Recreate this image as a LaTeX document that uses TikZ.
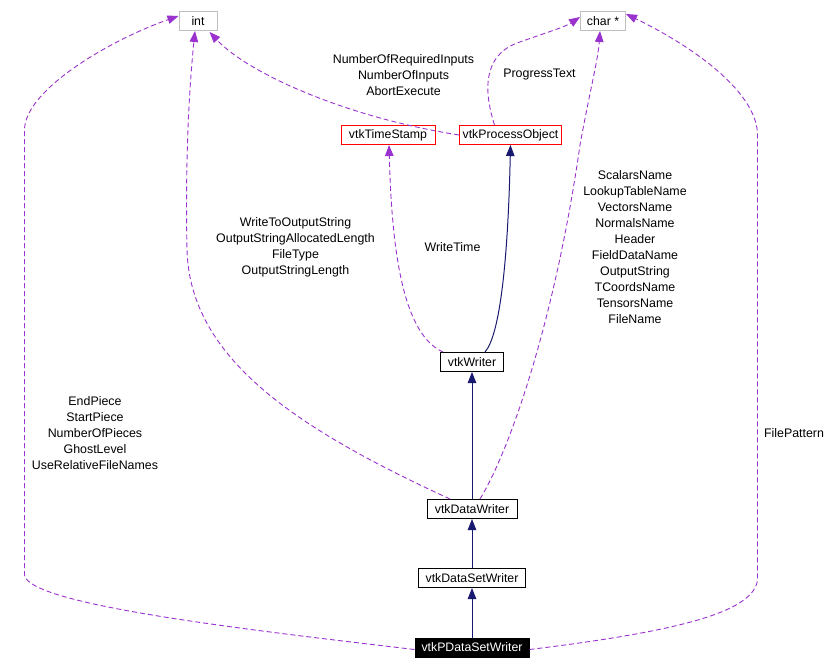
\documentclass[tikz,border=0pt]{standalone}
\usepackage{fontspec}
\setmainfont{Liberation Sans}
\usetikzlibrary{arrows.meta}
\definecolor{purp}{HTML}{9A32CD}
\definecolor{navyb}{HTML}{191970}
\definecolor{greyb}{HTML}{BFBFBF}
\begin{document}
\begin{tikzpicture}[x=1pt,y=-1pt,
  box/.style={draw, line width=1pt, minimum height=19pt, inner sep=0pt, font=\fontsize{12.3}{14}\selectfont},
  extbox/.style={box, draw=greyb},
  redbox/.style={box, draw=red},
  blkbox/.style={box, draw=black},
  lbl/.style={align=center, font=\fontsize{12.4}{16}\selectfont, inner sep=0pt},
  usage/.style={purp, line width=0.9pt, dash pattern=on 5pt off 3pt, -{Triangle[length=11pt,width=8.5pt]}},
  inherit/.style={navyb, line width=1pt, -{Triangle[length=11pt,width=8.5pt]}},
]
\useasboundingbox (0,0) rectangle (832,669);

% nodes
\node[extbox, minimum width=38pt] (int) at (198,21) {int};
\node[extbox, minimum width=45pt] (chr) at (603,21) {char *};
\node[redbox, minimum width=94pt] (ts) at (388,135) {vtkTimeStamp};
\node[redbox, minimum width=102pt] (po) at (510.5,135) {vtkProcessObject};
\node[blkbox, minimum width=63pt] (vw) at (472,362) {vtkWriter};
\node[blkbox, minimum width=90pt] (dw) at (472,509) {vtkDataWriter};
\node[blkbox, minimum width=107pt] (dsw) at (472,578) {vtkDataSetWriter};
\node[box, draw=black, fill=black, text=white, minimum width=114pt] (pdsw) at (472,647.5) {vtkPDataSetWriter};

% labels
\node[lbl] (l1) at (403.5,75) {NumberOfRequiredInputs\\NumberOfInputs\\AbortExecute};
\node[lbl] (l2) at (539.5,75) {ProgressText};
\node[lbl] (l3) at (295.5,247) {WriteToOutputString\\OutputStringAllocatedLength\\FileType\\OutputStringLength};
\node[lbl] (l4) at (452.5,247) {WriteTime};
\node[lbl] (l5) at (635,247) {ScalarsName\\LookupTableName\\VectorsName\\NormalsName\\Header\\FieldDataName\\OutputString\\TCoordsName\\TensorsName\\FileName};
\node[lbl] (l6) at (95,433) {EndPiece\\StartPiece\\NumberOfPieces\\GhostLevel\\UseRelativeFileNames};
\node[lbl] (l7) at (794,433) {FilePattern};

% inheritance
\draw[inherit] (pdsw.north) -- (dsw.south);
\draw[inherit] (dsw.north) -- (dw.south);
\draw[inherit] (dw.north) -- (vw.south);
\draw[inherit] ([xshift=13pt]vw.north) .. controls (500,335) and (508,260) .. (po.south);

% usage
\draw[usage] ([xshift=3pt]vw.north west) .. controls (405,335) and (392,260) .. ([xshift=1pt]ts.south);
\draw[usage] (po.west) .. controls (350,118) and (250,75) .. ([xshift=-8pt,yshift=-1pt]int.south east);
\draw[usage] ([xshift=-16pt]po.north) .. controls (485,95) and (480,55) .. (520,42) .. controls (545,33) and (565,27) .. ([yshift=4pt]chr.west);
\draw[usage] ([xshift=-22pt]dw.north) .. controls (300,430) and (190,360) .. (187,250) .. controls (185,150) and (190,80) .. ([xshift=-3pt]int.south);
\draw[usage] ([xshift=8pt]dw.north) .. controls (510,450) and (555,320) .. (580,145) .. controls (590,90) and (598,60) .. ([xshift=-3pt]chr.south);
\draw[usage] ([yshift=-2pt]pdsw.west) .. controls (250,630) and (28.5,605) .. (24.5,575) -- (24.5,130) .. controls (24.5,90) and (110,40) .. ([yshift=5pt]int.west);
\draw[usage] ([yshift=-2pt]pdsw.east) .. controls (690,630) and (753.5,610) .. (757.5,580) -- (757.5,135) .. controls (757.5,95) and (700,50) .. ([yshift=7pt]chr.east);
\end{tikzpicture}
\end{document}
